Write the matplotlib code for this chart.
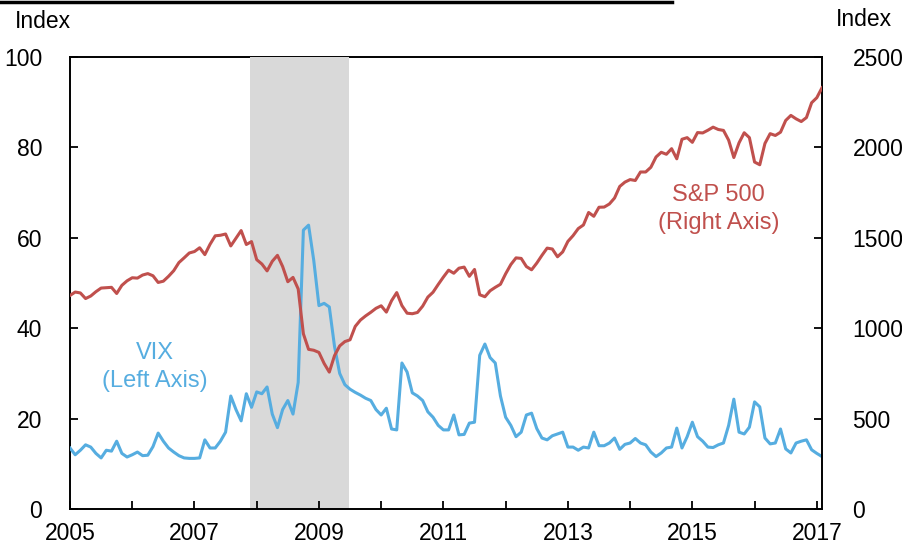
import matplotlib
matplotlib.use("Agg")
import matplotlib.pyplot as plt
from matplotlib.lines import Line2D
import numpy as np

plt.rcParams['font.family'] = ['Liberation Sans', 'DejaVu Sans']

# monthly values, Jan 2005 .. Feb 2017
start_year = 2005
vix = [13.5, 12.0, 13.0, 14.2, 13.7, 12.3, 11.3, 13.0, 12.8, 15.0, 12.3, 11.5,
       12.0, 12.6, 11.8, 11.9, 13.8, 16.8, 15.0, 13.5, 12.6, 11.8, 11.3, 11.2,
       11.2, 11.3, 15.3, 13.5, 13.5, 15.0, 17.0, 25.0, 22.0, 19.5, 25.5, 22.5,
       25.9, 25.5, 27.0, 21.0, 18.0, 22.0, 24.0, 21.0, 28.0, 61.7, 62.8, 55.0,
       45.0, 45.5, 44.7, 36.0, 30.0, 27.5, 26.5, 25.8, 25.2, 24.5, 24.0, 22.0,
       20.8, 22.3, 17.7, 17.5, 32.3, 30.3, 25.7, 25.0, 24.0, 21.5, 20.3, 18.5,
       17.5, 17.5, 20.8, 16.4, 16.5, 19.0, 19.2, 34.0, 36.5, 33.5, 32.3, 25.0,
       20.3, 18.5, 16.0, 17.0, 20.8, 21.2, 17.8, 15.7, 15.3, 16.2, 16.6, 17.0,
       13.7, 13.7, 13.0, 13.7, 13.5, 17.0, 14.0, 14.0, 14.6, 15.7, 13.2, 14.3,
       14.6, 15.6, 14.6, 14.2, 12.6, 11.6, 12.4, 13.5, 13.7, 17.9, 13.5, 16.0,
       19.2, 16.0, 15.0, 13.7, 13.6, 14.2, 14.6, 18.5, 24.3, 17.0, 16.6, 18.1,
       23.7, 22.6, 15.7, 14.4, 14.6, 17.7, 13.3, 12.4, 14.6, 15.0, 15.3, 13.1,
       12.3, 11.6]

spx = [1181, 1200, 1195, 1164, 1178, 1202, 1222, 1224, 1226, 1192, 1237, 1262,
       1279, 1277, 1294, 1302, 1290, 1253, 1260, 1287, 1318, 1363, 1389, 1416,
       1424, 1445, 1407, 1464, 1511, 1514, 1521, 1455, 1497, 1540, 1463, 1479,
       1379, 1355, 1317, 1370, 1403, 1341, 1257, 1281, 1217, 969, 883, 878,
       866, 805, 757, 848, 902, 926, 936, 1010, 1045, 1068, 1088, 1110,
       1124, 1089, 1152, 1197, 1125, 1083, 1080, 1087, 1122, 1172, 1199, 1242,
       1283, 1321, 1304, 1332, 1338, 1287, 1325, 1185, 1174, 1207, 1226, 1243,
       1301, 1352, 1389, 1386, 1341, 1323, 1360, 1403, 1443, 1438, 1395, 1422,
       1480, 1512, 1551, 1571, 1640, 1619, 1669, 1670, 1687, 1720, 1784, 1808,
       1822, 1817, 1864, 1864, 1890, 1947, 1973, 1962, 1993, 1937, 2045, 2054,
       2028, 2082, 2080, 2095, 2112, 2099, 2094, 2040, 1944, 2025, 2081, 2054,
       1919, 1904, 2022, 2076, 2066, 2084, 2149, 2177, 2158, 2143, 2165, 2247,
       2275, 2330]

recession = (2007.9, 2009.49)
year_ticks = list(range(2005, 2018))
year_labels = [str(y) if y % 2 == 1 else '' for y in year_ticks]

x = start_year + np.arange(len(vix)) / 12.0

blue = '#56ADE0'
red = '#C0504D'

fig = plt.figure(figsize=(9.02, 5.47), dpi=100)
ax = fig.add_axes([70 / 902, 1 - 509 / 547, 752 / 902, 452 / 547])
ax2 = ax.twinx()

ax.axvspan(recession[0], recession[1], color='#D9D9D9', lw=0, zorder=1)
ax.plot(x, vix, color=blue, lw=2.2, zorder=3)
ax2.plot(x, spx, color=red, lw=2.2, zorder=3)

ax.set_xlim(start_year, x[-1])
ax.set_ylim(0, 100)
ax2.set_ylim(0, 2500)
ax.set_yticks(np.arange(0, 101, 20))
ax2.set_yticks(np.arange(0, 2501, 500))
ax.set_xticks(year_ticks)
ax.set_xticklabels(year_labels)

for a in (ax, ax2):
    for s in a.spines.values():
        s.set_linewidth(1.4)
        s.set_color('black')
ax.spines['top'].set_zorder(0.5)
ax.spines['right'].set_visible(False)
for s in ('top', 'left', 'bottom'):
    ax2.spines[s].set_visible(False)

ax.tick_params(axis='x', direction='in', length=6, width=1.3, pad=9, labelsize=16.5)
ax.tick_params(axis='y', direction='in', length=6, width=1.3, pad=20, labelsize=16.5, right=False)
ax2.tick_params(axis='y', direction='in', length=6, width=1.3, pad=22, labelsize=16.5)

ax.text(2006.37, 31.5, 'VIX\n(Left Axis)', color=blue, fontsize=17, ha='center',
        va='center', linespacing=1.35)
ax2.text(2015.42, 1657, 'S&P 500\n(Right Axis)', color=red, fontsize=17, ha='center',
         va='center', linespacing=1.35)

fig.text(15 / 902, 1 - 21 / 547, 'Index', fontsize=16.5, ha='left', va='center')
fig.text(836 / 902, 1 - 20 / 547, 'Index', fontsize=16.5, ha='left', va='center')
fig.add_artist(Line2D([0, 672 / 902], [1 - 2 / 547, 1 - 2 / 547], color='black', lw=2.5))

fig.savefig('out.png', dpi=100)
